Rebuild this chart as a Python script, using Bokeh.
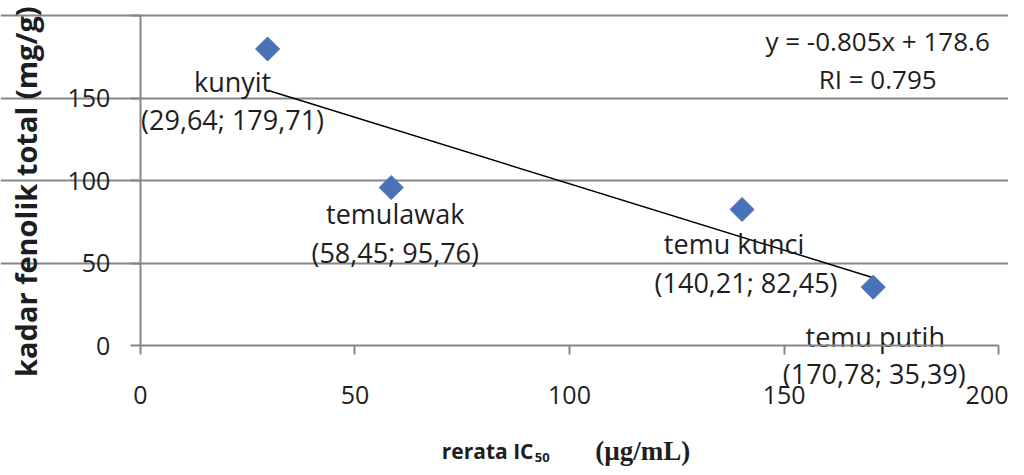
import math
from bokeh.plotting import figure
from bokeh.models import ColumnDataSource, Range1d, Label, FixedTicker
from bokeh.core.properties import value
from bokeh.embed import file_html
from bokeh.resources import INLINE

# ---- data ----
names = ["kunyit", "temulawak", "temu kunci", "temu putih"]
ic50 = [29.64, 58.45, 140.21, 170.78]
fenol = [179.71, 95.76, 82.45, 35.39]
coord_labels = ["(29,64; 179,71)", "(58,45; 95,76)", "(140,21; 82,45)", "(170,78; 35,39)"]
trend_x = [29.64, 170.78]
trend_y = [154.7, 41.1]
equation = "y = -0.805x + 178.6"
r_text = "RI = 0.795"
x_ticks = [0, 50, 100, 150, 200]
y_ticks = [0, 50, 100, 150, 200]

# label pixel offsets (style; positive = downwards)
name_dx = [-35, 4, -8, 2]
name_dy = [33, 26, 34, 49]
coord_dx = [-35, 4, 4, 1]
coord_dy = [71, 65, 73, 86]

FONT = "Open Sans"
TXT = "#1e1e1e"
GRAY = "#868686"

# frame covers the whole canvas; axes sit at fixed data locations
p = figure(width=1008, height=467, output_backend="svg", toolbar_location=None,
           x_range=Range1d(-32.6, 202.3), y_range=Range1d(-73.9, 209.1))
p.min_border_left = 0
p.min_border_right = 0
p.min_border_top = 0
p.min_border_bottom = 0
p.outline_line_color = None
p.background_fill_color = "white"
p.border_fill_color = "white"

p.xgrid.visible = False
p.ygrid.ticker = FixedTicker(ticks=[50, 100, 150, 200])
p.ygrid.grid_line_color = GRAY
p.ygrid.grid_line_width = 2
p.ygrid.bounds = (0, 200)

for ax in (p.xaxis[0], p.yaxis[0]):
    ax.axis_line_color = GRAY
    ax.axis_line_width = 2
    ax.major_tick_line_color = GRAY
    ax.major_tick_line_width = 2
    ax.minor_tick_line_color = None
    ax.major_tick_in = 0
    ax.major_label_text_font = FONT
    ax.major_label_text_font_size = "25px"
    ax.major_label_text_color = TXT

p.xaxis.fixed_location = 0
p.yaxis.fixed_location = 0
p.xaxis.bounds = (0, 200)
p.yaxis.bounds = (0, 200)
p.xaxis.ticker = FixedTicker(ticks=x_ticks)
p.yaxis.ticker = FixedTicker(ticks=y_ticks)
p.yaxis.major_label_overrides = {200: ""}
p.xaxis.major_tick_out = 9
p.xaxis.major_label_standoff = 31
p.yaxis.major_tick_out = 10
p.yaxis.major_label_standoff = 20

# trend line
p.line(trend_x, trend_y, line_color="black", line_width=1.5)

# points
src = ColumnDataSource(dict(x=ic50, y=fenol, name=names, coord=coord_labels,
                            ndx=name_dx, ndy=name_dy, cdx=coord_dx, cdy=coord_dy))
p.scatter("x", "y", source=src, marker="square", size=17, angle=math.pi / 4,
          fill_color="#4A72B8", line_color="#4A72B8")

p.text("x", "y", text="name", source=src, x_offset="ndx", y_offset="ndy",
       text_font=value(FONT), text_font_size="27px", text_color=TXT,
       text_align="center", text_baseline="middle")
p.text("x", "y", text="coord", source=src, x_offset="cdx", y_offset="cdy",
       text_font=value(FONT), text_font_size="27px", text_color=TXT,
       text_align="center", text_baseline="middle")

# equation
p.add_layout(Label(x=171.8, y=184.8, text=equation, text_font=FONT, text_font_size="26px",
                   text_color=TXT, text_align="center", text_baseline="middle"))
p.add_layout(Label(x=171.8, y=161.8, text=r_text, text_font=FONT, text_font_size="26px",
                   text_color=TXT, text_align="center", text_baseline="middle"))

# y-axis title
p.add_layout(Label(x=-26.8, y=93.3, text="kadar fenolik total (mg/g)", angle=math.pi / 2,
                   text_font=FONT, text_font_size="29px", text_font_style="bold",
                   text_color=TXT, text_align="center", text_baseline="middle"))

# x-axis title built from pieces
p.add_layout(Label(x=91.6, y=-64.0, text="rerata IC",
                   text_font=FONT, text_font_size="21px", text_font_style="bold",
                   text_color=TXT, text_align="right", text_baseline="middle"))
p.add_layout(Label(x=91.9, y=-68.0, text="50",
                   text_font=FONT, text_font_size="13px", text_font_style="bold",
                   text_color=TXT, text_align="left", text_baseline="middle"))
p.add_layout(Label(x=106.0, y=-64.0, text="(µg/mL)",
                   text_font="Liberation Serif", text_font_size="27px", text_font_style="bold",
                   text_color=TXT, text_align="left", text_baseline="middle"))

open("out.html", "w").write(file_html(p, INLINE))
